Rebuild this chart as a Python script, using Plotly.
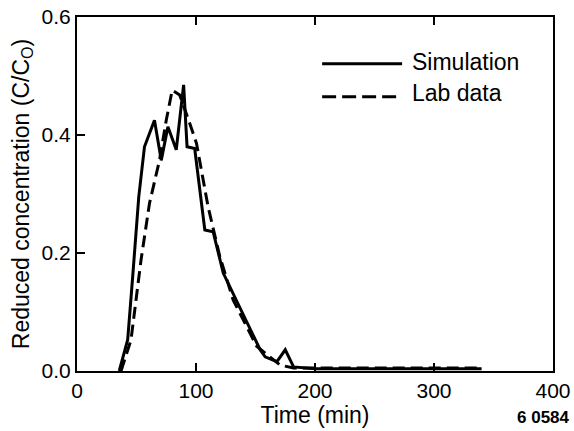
import plotly.graph_objects as go

sim_t = [35.5, 42.6, 46.8, 51.9, 56.7, 65.1, 70.8, 76.4, 83.4, 89.6, 92.5, 98.9,
         107.4, 114.4, 122.9, 128.5, 140.0, 153.9, 158.1, 168.0, 175.0, 182.0, 200, 250, 300, 340]
sim_c = [0.0, 0.053, 0.16, 0.295, 0.38, 0.425, 0.357, 0.414, 0.375, 0.485, 0.38, 0.377,
         0.239, 0.236, 0.166, 0.143, 0.095, 0.036, 0.024, 0.016, 0.036, 0.007, 0.004, 0.004, 0.004, 0.004]

lab_t = [37.0, 45.4, 53.8, 60.9, 69.3, 75.0, 80.0, 86.3, 94.7, 100.4, 110.2, 120.0,
         131.3, 151.0, 170.8, 182.0, 200, 250, 300, 340]
lab_c = [0.0, 0.053, 0.188, 0.284, 0.357, 0.425, 0.476, 0.468, 0.42, 0.386, 0.278, 0.194,
         0.12, 0.042, 0.01, 0.005, 0.005, 0.005, 0.005, 0.005]

x_ticks = [0, 100, 200, 300, 400]
y_ticks = [0.0, 0.2, 0.4, 0.6]
y_tick_labels = ["0.0", "0.2", "0.4", "0.6"]

fam = "Liberation Sans, Arial, sans-serif"
tick_font = dict(family=fam, color="black", size=21)
title_font = dict(family=fam, color="black", size=23)

fig = go.Figure()
fig.add_trace(go.Scatter(x=sim_t, y=sim_c, mode="lines", name="Simulation",
                         line=dict(color="black", width=3), showlegend=False))
fig.add_trace(go.Scatter(x=lab_t, y=lab_c, mode="lines", name="Lab data",
                         line=dict(color="black", width=3, dash="12px,6px"), showlegend=False))

fig.update_layout(
    width=574, height=431,
    margin=dict(l=77, r=21, t=17, b=60),
    paper_bgcolor="white", plot_bgcolor="white",
    font=tick_font,
    xaxis=dict(range=[0, 400], tickvals=x_ticks, ticks="inside", ticklen=8, tickwidth=2,
               tickcolor="black", showline=True, linecolor="black", linewidth=2,
               mirror="ticks", showgrid=False, zeroline=False, automargin=False,
               tickfont=tick_font,
               title=dict(text="Time (min)", standoff=0, font=title_font)),
    yaxis=dict(range=[0, 0.6], tickvals=y_ticks, ticktext=y_tick_labels, ticks="inside",
               ticklen=8, tickwidth=2, tickcolor="black", showline=True, linecolor="black",
               linewidth=2, mirror=True, showgrid=False, zeroline=False, automargin=False,
               tickfont=tick_font,
               title=dict(text="Reduced concentration (C/C<sub>O</sub>)", standoff=6,
                          font=title_font)),
)

# legend drawn manually (long line samples)
fig.add_shape(type="line", xref="paper", yref="paper", x0=0.515, x1=0.683, y0=0.868, y1=0.868,
              line=dict(color="black", width=3))
fig.add_shape(type="line", xref="paper", yref="paper", x0=0.515, x1=0.683, y0=0.775, y1=0.775,
              line=dict(color="black", width=3, dash="14px,6px"))
fig.add_annotation(xref="paper", yref="paper", x=0.70, y=0.872, text="Simulation",
                   showarrow=False, xanchor="left", yanchor="middle", font=title_font)
fig.add_annotation(xref="paper", yref="paper", x=0.70, y=0.785, text="Lab data",
                   showarrow=False, xanchor="left", yanchor="middle", font=title_font)
fig.add_annotation(xref="paper", yref="paper", x=1.04, y=-0.13, text="<b>6 0584</b>",
                   showarrow=False, xanchor="right", yanchor="middle",
                   font=dict(family=fam, color="black", size=17))

fig.write_html("out.html", config={"displayModeBar": False},
               post_script="document.body.style.margin='0';")
